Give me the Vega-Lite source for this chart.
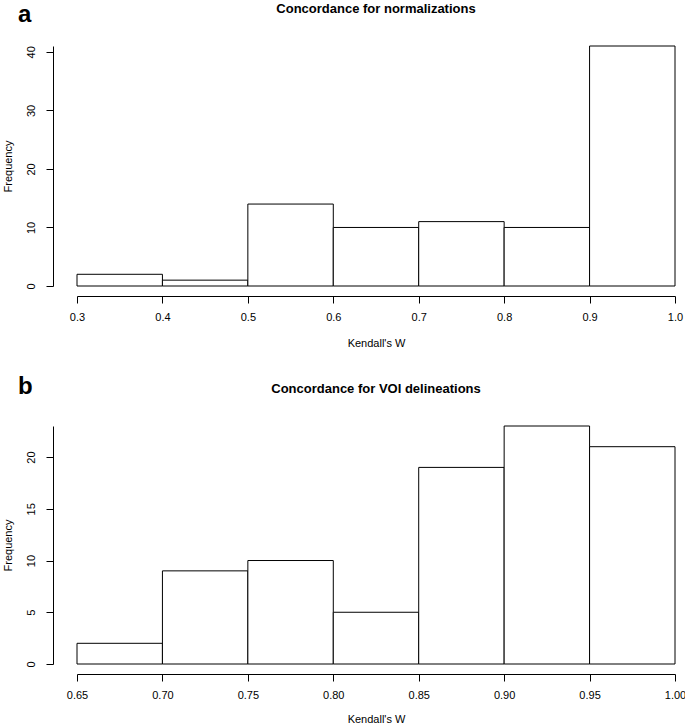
{
  "$schema": "https://vega.github.io/schema/vega-lite/v6.json",
  "padding": {"left": 2, "top": 2, "right": 0, "bottom": 2},
  "background": "white",
  "spacing": 26,
  "config": {
    "font": "Liberation Sans",
    "view": {"stroke": null},
    "axis": {
      "domainColor": "black",
      "tickColor": "black",
      "labelColor": "black",
      "titleColor": "black",
      "labelFontSize": 11,
      "titleFontSize": 11,
      "titleFontWeight": "normal",
      "tickSize": 7,
      "grid": false,
      "labelFlush": false,
      "labelOverlap": false
    }
  },
  "vconcat": [
    {
      "title": {"text": "a", "anchor": "start", "fontSize": 24, "fontWeight": "bold", "color": "black", "frame": "bounds", "offset": -24, "dx": 16},
      "vconcat": [
        {
          "title": {"text": "Concordance for normalizations", "anchor": "middle", "frame": "group", "fontSize": 13, "fontWeight": "bold", "color": "black", "offset": 30},
          "width": 598,
          "height": 240,
          "data": {"values": [
            {"x0": 0.3, "x1": 0.4, "count": 2},
            {"x0": 0.4, "x1": 0.5, "count": 1},
            {"x0": 0.5, "x1": 0.6, "count": 14},
            {"x0": 0.6, "x1": 0.7, "count": 10},
            {"x0": 0.7, "x1": 0.8, "count": 11},
            {"x0": 0.8, "x1": 0.9, "count": 10},
            {"x0": 0.9, "x1": 1.0, "count": 41}
          ]},
          "mark": {"type": "rect", "fill": "white", "stroke": "black", "strokeWidth": 1},
          "encoding": {
            "x": {"field": "x0", "type": "quantitative", "scale": {"domain": [0.3, 1.0], "nice": false, "zero": false},
              "axis": {"values": [0.3, 0.4, 0.5, 0.6, 0.7, 0.8, 0.9, 1.0], "format": ".1f", "offset": 10, "labelPadding": 8, "titlePadding": 15, "title": "Kendall's W"}},
            "x2": {"field": "x1"},
            "y": {"field": "count", "type": "quantitative", "scale": {"domain": [0, 41], "nice": false},
              "axis": {"values": [0, 10, 20, 30, 40], "offset": 24, "labelAngle": -90, "labelAlign": "center", "labelBaseline": "bottom", "labelPadding": 10, "titlePadding": 12, "title": "Frequency"}},
            "y2": {"datum": 0}
          }
        }
      ]
    },
    {
      "title": {"text": "b", "anchor": "start", "fontSize": 24, "fontWeight": "bold", "color": "black", "frame": "bounds", "offset": -16, "dx": 16},
      "vconcat": [
        {
          "title": {"text": "Concordance for VOI delineations", "anchor": "middle", "frame": "group", "fontSize": 13, "fontWeight": "bold", "color": "black", "offset": 30},
          "width": 598,
          "height": 238,
          "data": {"values": [
            {"x0": 0.65, "x1": 0.70, "count": 2},
            {"x0": 0.70, "x1": 0.75, "count": 9},
            {"x0": 0.75, "x1": 0.80, "count": 10},
            {"x0": 0.80, "x1": 0.85, "count": 5},
            {"x0": 0.85, "x1": 0.90, "count": 19},
            {"x0": 0.90, "x1": 0.95, "count": 23},
            {"x0": 0.95, "x1": 1.00, "count": 21}
          ]},
          "mark": {"type": "rect", "fill": "white", "stroke": "black", "strokeWidth": 1},
          "encoding": {
            "x": {"field": "x0", "type": "quantitative", "scale": {"domain": [0.65, 1.0], "nice": false, "zero": false},
              "axis": {"values": [0.65, 0.70, 0.75, 0.80, 0.85, 0.90, 0.95, 1.00], "format": ".2f", "offset": 10, "labelPadding": 8, "titlePadding": 13, "title": "Kendall's W"}},
            "x2": {"field": "x1"},
            "y": {"field": "count", "type": "quantitative", "scale": {"domain": [0, 23], "nice": false},
              "axis": {"values": [0, 5, 10, 15, 20], "offset": 24, "labelAngle": -90, "labelAlign": "center", "labelBaseline": "bottom", "labelPadding": 10, "titlePadding": 12, "title": "Frequency"}},
            "y2": {"datum": 0}
          }
        }
      ]
    }
  ]
}
